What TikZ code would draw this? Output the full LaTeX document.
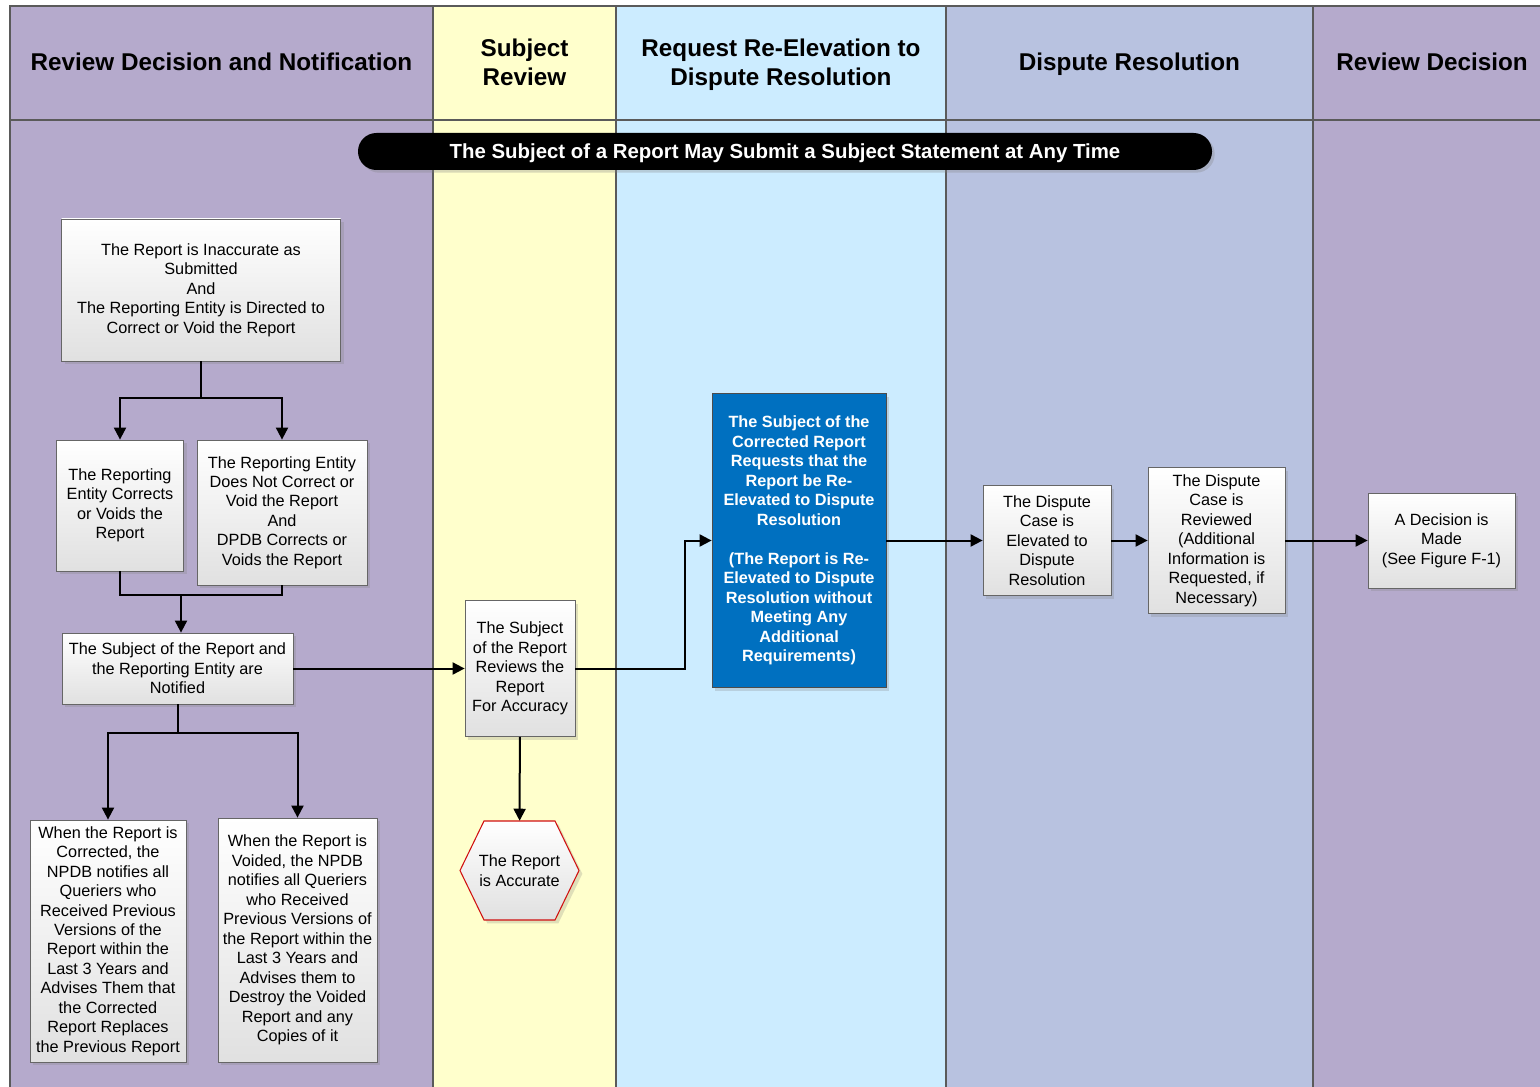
\documentclass[tikz,border=0pt]{standalone}
\usepackage{fontspec}
\setmainfont{Liberation Sans}
\usetikzlibrary{arrows.meta}
\usetikzlibrary{shadows}
\definecolor{lanepurple}{HTML}{B5AACC}
\definecolor{laneyellow}{HTML}{FFFFCC}
\definecolor{laneblue}{HTML}{CCECFF}
\definecolor{lanedispute}{HTML}{B8C2E0}
\definecolor{laneline}{HTML}{5A5A5A}
\definecolor{reqblue}{HTML}{0070C0}
\definecolor{hexred}{HTML}{D01010}

\begin{document}
\begin{tikzpicture}[x=0.75pt,y=-0.75pt,line join=miter,>={Triangle[length=9pt,width=9pt]},
  lane/.style={draw=laneline,line width=1pt},
  lanehead/.style={align=center,font=\fontsize{18.2}{21.8}\selectfont\bfseries},
  banner/.style={fill=black,text=white,rounded corners=13.8pt,minimum width=640.5pt,minimum height=27.75pt,
    text height=11pt,text depth=0pt,
    font=\fontsize{15.3}{18}\selectfont\bfseries,drop shadow={shadow xshift=2pt,shadow yshift=-2pt,opacity=0.3}},
  box/.style={draw=black!60,line width=0.6pt,top color=white,bottom color=black!12,align=center,inner sep=0pt,
    font=\fontsize{12.2}{14.6}\selectfont,drop shadow={shadow xshift=2.5pt,shadow yshift=-2.5pt,opacity=0.25}},
  reqbox/.style={box,top color=reqblue,bottom color=reqblue,draw=black!70,text=white,
    font=\fontsize{12.2}{14.6}\selectfont\bfseries},
  hexa/.style={draw=hexred,line width=0.8pt,top color=white,bottom color=black!12,
    drop shadow={shadow xshift=2.5pt,shadow yshift=-2.5pt,opacity=0.25}},
  flow/.style={->,line width=1.5pt}]
\useasboundingbox (0,0) rectangle (1540,1087);
% swim lanes
\foreach \xa/\xb/\col in {10/433/lanepurple,433/616/laneyellow,616/946/laneblue,946/1313/lanedispute,1313/1551/lanepurple}
  \draw[lane,fill=\col] (\xa,6) rectangle (\xb,1100);
\draw[lane] (10,120) -- (1551,120);
\node[lanehead] (hdnotify) at (221.5,62) {Review Decision and Notification};
\node[lanehead] (hdsubject) at (524.5,62) {Subject\\Review};
\node[lanehead] (hdrequest) at (781,65) {Request Re-Elevation to\\Dispute Resolution};
\node[lanehead] (hddispute) at (1129.5,64) {Dispute Resolution};
\node[lanehead] (hddecision) at (1432,62) {Review Decision};
\node[banner] (anytime) at (785,151.5) {The Subject of a Report May Submit a Subject Statement at Any Time};
% boxes
\node[box,minimum width=209.25pt,minimum height=106.5pt] (inacc) at (201,290)
  {The Report is Inaccurate as\\Submitted\\And\\The Reporting Entity is Directed to\\Correct or Void the Report};
\node[box,minimum width=95.25pt,minimum height=98.25pt] (corrects) at (120,505.5)
  {The Reporting\\Entity Corrects\\or Voids the\\Report};
\node[box,minimum width=127.5pt,minimum height=108.75pt] (notcorr) at (282,512.5)
  {The Reporting Entity\\Does Not Correct or\\Void the Report\\And\\DPDB Corrects or\\Voids the Report};
\node[box,minimum width=173.25pt,minimum height=53.25pt] (notified) at (177.5,668.5)
  {The Subject of the Report and\\the Reporting Entity are\\Notified};
\node[box,minimum width=117pt,minimum height=181.5pt] (whencorr) at (108,941)
  {When the Report is\\Corrected, the\\NPDB notifies all\\Queriers who\\Received Previous\\Versions of the\\Report within the\\Last 3 Years and\\Advises Them that\\the Corrected\\Report Replaces\\the Previous Report};
\node[box,minimum width=119.25pt,minimum height=183pt] (whenvoid) at (297.5,940)
  {When the Report is\\Voided, the NPDB\\notifies all Queriers\\who Received\\Previous Versions of\\the Report within the\\Last 3 Years and\\Advises them to\\Destroy the Voided\\Report and any\\Copies of it};
\node[box,minimum width=82.5pt,minimum height=102pt] (subjrev) at (520,668.5)
  {The Subject\\of the Report\\Reviews the\\Report\\For Accuracy};
\draw[hexa] (484,821) -- (555,821) -- (579,870.5) -- (555,920) -- (484,920) -- (460,870.5) -- cycle;
\node[align=center,inner sep=0pt,minimum width=89.25pt,minimum height=74.25pt,
  font=\fontsize{12.2}{14.6}\selectfont] (accurate) at (519.5,870.5) {The Report\\is Accurate};
\node[reqbox,minimum width=130.5pt,minimum height=220.5pt] (request) at (799,540.5)
  {The Subject of the\\Corrected Report\\Requests that the\\Report be Re-\\Elevated to Dispute\\Resolution\\[14.6pt]
   (The Report is Re-\\Elevated to Dispute\\Resolution without\\Meeting Any\\Additional\\Requirements)};
\node[box,minimum width=96pt,minimum height=82.5pt] (elevated) at (1047,540.5)
  {The Dispute\\Case is\\Elevated to\\Dispute\\Resolution};
\node[box,minimum width=102.75pt,minimum height=109.5pt] (reviewed) at (1216.5,540.5)
  {The Dispute\\Case is\\Reviewed\\(Additional\\Information is\\Requested, if\\Necessary)};
\node[box,minimum width=110.25pt,minimum height=71.25pt] (decision) at (1441.5,540.5)
  {A Decision is\\Made\\(See Figure F-1)};
% connectors
\coordinate (split1) at (201,398);
\coordinate (join1) at (181,595);
\coordinate (split2) at (177.5,733);
\coordinate (bend) at (685,668.5);
\draw[line width=1.5pt] (inacc) -- (split1);
\draw[flow] (split1) -| (corrects);
\draw[flow] (split1) -| (notcorr);
\draw[line width=1.5pt] (corrects.south) |- (join1);
\draw[line width=1.5pt] (notcorr.south) |- (join1);
\draw[flow] (join1) -- (join1 |- notified.north);
\draw[line width=1.5pt] (notified) -- (split2);
\draw[flow] (split2) -| (whencorr);
\draw[flow] (split2) -| (whenvoid);
\draw[flow] (notified) -- (subjrev);
\draw[flow] (subjrev) -- (accurate);
\draw[flow] (subjrev) -- (bend) |- (request);
\draw[flow] (request) -- (elevated);
\draw[flow] (elevated) -- (reviewed);
\draw[flow] (reviewed) -- (decision);
\end{tikzpicture}
\end{document}
